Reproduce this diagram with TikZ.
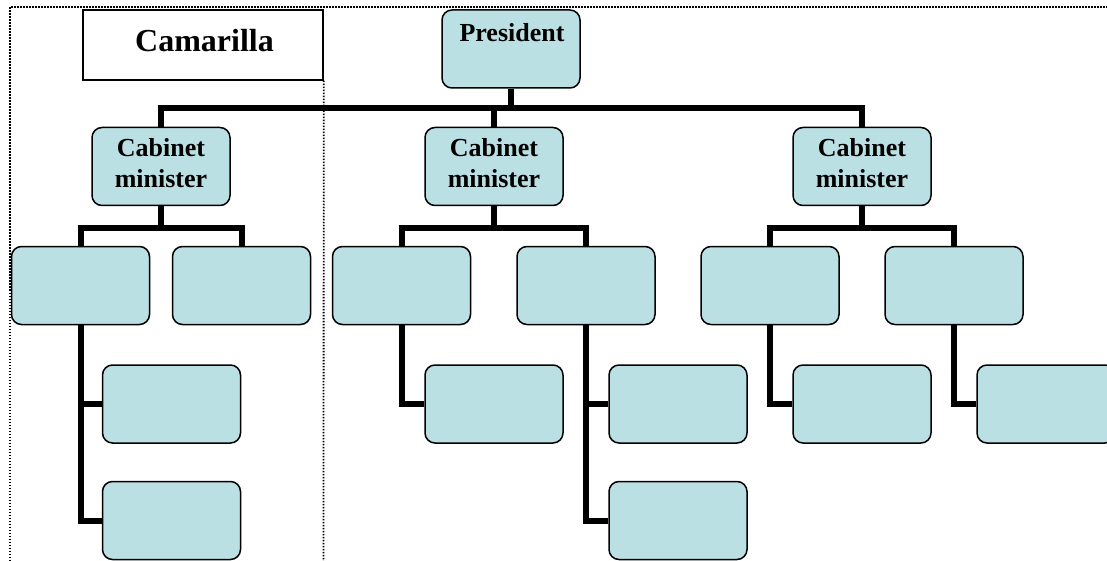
\documentclass[tikz,border=0pt]{standalone}
\usepackage{fontspec}
\setmainfont{Liberation Serif}
\definecolor{boxblue}{HTML}{BBE0E3}
\tikzset{
  box/.style={draw, line width=1.5pt, rounded corners=10pt, fill=boxblue,
    minimum width=138pt, minimum height=78pt, inner sep=0pt},
  conn/.style={line width=6pt},
  frame/.style={line width=1.8pt, draw=black, dash pattern=on 1.5pt off 1.5pt},
  lbl/.style={font=\bfseries\fontsize{26}{31}\selectfont, align=center, inner sep=0pt}
}
\begin{document}
\begin{tikzpicture}[x=1pt,y=-1pt]
\useasboundingbox (0,0) rectangle (1107,561);
\begin{scope}
\clip (0,0) rectangle (1107,561);
% frame
\coordinate (ftl) at (10,7);
\coordinate (ftr) at (1107,7);
\coordinate (fbl) at (10,561);
\draw[frame] (fbl) -- (ftl) -- (ftr);
% Camarilla
\node[draw, line width=1.5pt, minimum width=240pt, minimum height=70pt, inner sep=0pt] (cam) at (203,45) {};
\node[font=\bfseries\fontsize{32}{38}\selectfont, anchor=base, inner sep=0pt] (camt) at (204.5,51.7) {Camarilla};
\coordinate (camb) at (323.5,561);
\draw[frame] (cam.south east) -- (camb);
% boxes
\node[box] (pres) at (511,49) {};
\node[lbl, anchor=base] (prest) at (512,41.3) {President};
\node[box] (cab1) at (161,166.5) {};
\node[box] (cab2) at (494,166.5) {};
\node[box] (cab3) at (862,166.5) {};
\node[lbl, anchor=base] (cab1t) at (161,187.7) {Cabinet\\minister};
\node[lbl, anchor=base] (cab2t) at (494,187.7) {Cabinet\\minister};
\node[lbl, anchor=base] (cab3t) at (862,187.7) {Cabinet\\minister};
\node[box] (a1) at (80.5,285.5) {};
\node[box] (a2) at (241.5,285.5) {};
\node[box] (b1) at (401.5,285.5) {};
\node[box] (b2) at (586,285.5) {};
\node[box] (c1) at (770,285.5) {};
\node[box] (c2) at (954,285.5) {};
\node[box] (a1x) at (171.5,404) {};
\node[box] (a1y) at (171.5,520.5) {};
\node[box] (b1x) at (494,404) {};
\node[box] (b2x) at (678,404) {};
\node[box] (b2y) at (678,520.5) {};
\node[box] (c1x) at (862,404) {};
\node[box] (c2x) at (1046,404) {};
% connectors
\coordinate (bus) at (0,108);
\coordinate (sub) at (0,228);
\draw[conn] (pres.south) -- (pres.south |- bus);
\draw[conn] (cab1.north) |- (cab3.north |- bus) -- (cab3.north);
\draw[conn] (cab2.north) -- (cab2.north |- bus);
\draw[conn] (cab1.south) -- (cab1.south |- sub);
\draw[conn] (a1.north) |- (a2.north |- sub) -- (a2.north);
\draw[conn] (cab2.south) -- (cab2.south |- sub);
\draw[conn] (b1.north) |- (b2.north |- sub) -- (b2.north);
\draw[conn] (cab3.south) -- (cab3.south |- sub);
\draw[conn] (c1.north) |- (c2.north |- sub) -- (c2.north);
\draw[conn] (a1.south) |- (a1y.west);
\draw[conn] (a1.south |- a1x.west) -- (a1x.west);
\draw[conn] (b1.south) |- (b1x.west);
\draw[conn] (b2.south) |- (b2y.west);
\draw[conn] (b2.south |- b2x.west) -- (b2x.west);
\draw[conn] (c1.south) |- (c1x.west);
\draw[conn] (c2.south) |- (c2x.west);
\end{scope}
\end{tikzpicture}
\end{document}
